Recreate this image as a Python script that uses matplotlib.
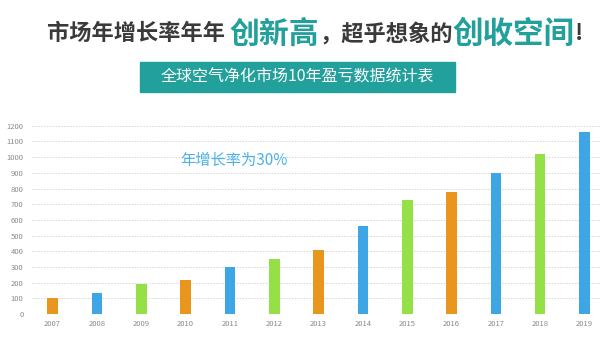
import matplotlib
matplotlib.use("Agg")
import matplotlib.pyplot as plt
from matplotlib.patches import Rectangle

plt.rcParams['font.family'] = ['Noto Sans CJK SC', 'DejaVu Sans']

# data
years = ['2007', '2008', '2009', '2010', '2011', '2012', '2013',
         '2014', '2015', '2016', '2017', '2018', '2019']
values = [100, 135, 190, 215, 300, 350, 410, 560, 730, 780, 900, 1020, 1160]
bar_colors = ['#E8961E', '#3FA6E6', '#94E046', '#E8961E', '#3FA6E6', '#94E046',
              '#E8961E', '#3FA6E6', '#94E046', '#E8961E', '#3FA6E6', '#94E046', '#3FA6E6']
yticks = list(range(0, 1300, 100))

teal = '#22A09B'
dark = '#3A3A3A'

fig = plt.figure(figsize=(6, 3.55), dpi=100, facecolor='white')
ax = fig.add_axes([0.053, 0.115, 0.947, 0.531])

x = list(range(len(years)))
ax.bar(x, values, width=0.24, color=bar_colors, zorder=3)
ax.set_xlim(-0.47, 12.35)
ax.set_ylim(0, 1200)
ax.set_yticks(yticks)
ax.set_yticklabels([str(v) for v in yticks])
ax.set_xticks(x)
ax.set_xticklabels(years)
ax.tick_params(axis='both', length=0, labelsize=5.5, labelcolor='#8A8A8A')
ax.tick_params(axis='y', pad=6)
ax.tick_params(axis='x', pad=4)
ax.grid(axis='y', color='#D5D5D5', linestyle=(0, (1.5, 1.5)), linewidth=0.7, zorder=0)
for s in ax.spines.values():
    s.set_visible(False)

ax.text(4.1, 980, '年增长率为30%', color='#4DB2EA', fontsize=11, ha='center', va='center')

# headline, drawn piece by piece
pieces = [('市场年增长率年年 ', dark, 16), ('创新高', teal, 21.5),
          ('，超乎想象的', dark, 16), ('创收空间', teal, 22), ('!', dark, 16)]
fig.canvas.draw()
r = fig.canvas.get_renderer()
texts = []
total = 0
for s, c, fs in pieces:
    t = fig.text(0, 0.905, s, color=c, fontsize=fs, fontweight='bold', va='center')
    w = t.get_window_extent(renderer=r).width
    texts.append((t, w))
    total += w
xpos = (600 - total) / 2 + 15
for t, w in texts:
    t.set_x(xpos / 600)
    xpos += w

# subtitle box
fig.patches.append(Rectangle((140 / 600, 1 - 92 / 355), 315 / 600, 30 / 355,
                             transform=fig.transFigure, color=teal, zorder=1))
fig.text(297.5 / 600, 1 - 77 / 355, '全球空气净化市场10年盈亏数据统计表', color='white',
         fontsize=11.5, ha='center', va='center', zorder=2)

fig.savefig('out.png', dpi=100, facecolor='white')
